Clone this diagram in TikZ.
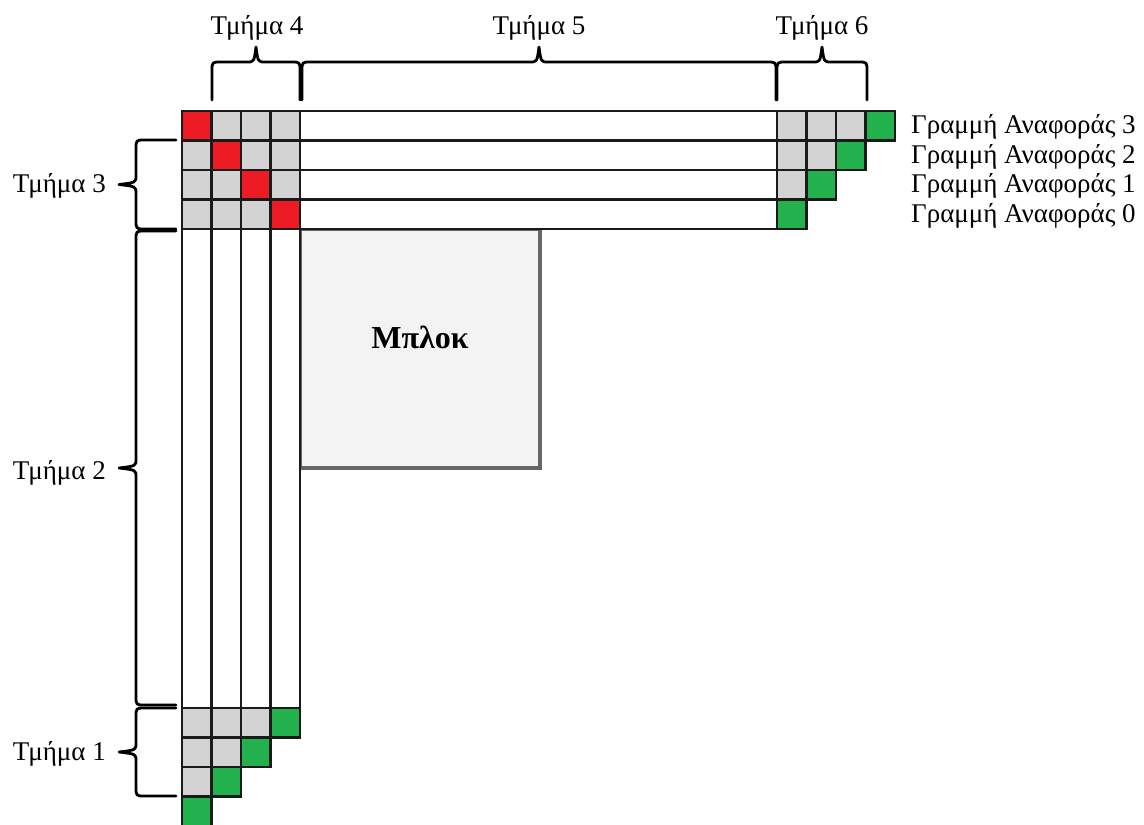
\documentclass[tikz,border=0pt]{standalone}
\usepackage{fontspec}
\setmainfont{Liberation Serif}
\definecolor{cellgray}{HTML}{D3D3D3}
\definecolor{cellred}{HTML}{ED1C24}
\definecolor{cellgreen}{HTML}{22B14C}
\definecolor{blockfill}{HTML}{F3F3F3}
\definecolor{blockedge}{HTML}{666666}
\definecolor{gridink}{HTML}{1A1A1A}

% horizontal brace above a span: #1 left x, #2 right x, #3 y of the ends
\newcommand{\topbrace}[3]{%
  \pgfmathsetmacro\bxm{(#1+#2)/2}%
  \draw[bracepath] (#1,#3) -- (#1,#3-29)
    .. controls (#1,#3-38) .. (#1+9,#3-38) -- (\bxm-9,#3-38)
    .. controls (\bxm-2,#3-38) .. (\bxm,#3-53)
    .. controls (\bxm+2,#3-38) .. (\bxm+9,#3-38) -- (#2-9,#3-38)
    .. controls (#2,#3-38) .. (#2,#3-29) -- (#2,#3);}
% vertical brace left of a span: #1 top y, #2 bottom y, #3 x of the ends
\newcommand{\leftbrace}[3]{%
  \pgfmathsetmacro\bym{(#1+#2)/2}%
  \draw[bracepath] (#3,#1) -- (#3-31,#1)
    .. controls (#3-40,#1) .. (#3-40,#1+9) -- (#3-40,\bym-9)
    .. controls (#3-40,\bym-2) .. (#3-57,\bym)
    .. controls (#3-40,\bym+2) .. (#3-40,\bym+9) -- (#3-40,#2-9)
    .. controls (#3-40,#2) .. (#3-31,#2) -- (#3,#2);}

\begin{document}
\begin{tikzpicture}[x=1pt,y=-1pt,
  cellbox/.style={draw=gridink, line width=2.8pt},
  bracepath/.style={draw=black, line width=2.8pt, line cap=round, line join=round},
  lab/.style={inner sep=0pt, font=\fontsize{27}{32}\selectfont},
  blockbox/.style={draw=blockedge, fill=blockfill, line width=3.5pt,
    minimum width=240pt, minimum height=239pt, inner sep=0pt}]
\useasboundingbox (0,0) rectangle (1144,825);

% the block under the reference rows and columns
\node[blockbox] (block) at (420,348.5) {};
\node[font=\fontsize{32}{36}\selectfont\bfseries, inner sep=0pt]
  (blocklabel) at ([yshift=11pt]block.center) {Μπλοκ};

% horizontal reference rows: white strips
\foreach \r in {0,...,3} {
  \pgfmathsetmacro\ya{111+29.5*\r}
  \pgfmathsetmacro\yb{\ya+29.5}
  \draw[cellbox, fill=white] (300,\ya) rectangle (777,\yb);
}
% vertical reference columns: white strips
\foreach \k in {0,...,3} {
  \pgfmathsetmacro\xa{182+29.5*\k}
  \pgfmathsetmacro\xb{\xa+29.5}
  \draw[cellbox, fill=white] (\xa,229) rectangle (\xb,708);
}
% top-left corner: 4x4 cells, red diagonal
\foreach \r in {0,...,3} {
  \foreach \k in {0,...,3} {
    \pgfmathsetmacro\ya{111+29.5*\r}
    \pgfmathsetmacro\yb{\ya+29.5}
    \pgfmathsetmacro\xa{182+29.5*\k}
    \pgfmathsetmacro\xb{\xa+29.5}
    \ifnum\k=\r\def\cc{cellred}\else\def\cc{cellgray}\fi
    \draw[cellbox, fill=\cc] (\xa,\ya) rectangle (\xb,\yb);
  }
}
% right end of the rows: staircase with green last cell
\foreach \r in {0,...,3} {
  \pgfmathtruncatemacro\last{3-\r}
  \foreach \j in {0,...,\last} {
    \pgfmathsetmacro\ya{111+29.5*\r}
    \pgfmathsetmacro\yb{\ya+29.5}
    \pgfmathsetmacro\xa{777+29.5*\j}
    \pgfmathsetmacro\xb{\xa+29.5}
    \ifnum\j=\last\def\cc{cellgreen}\else\def\cc{cellgray}\fi
    \draw[cellbox, fill=\cc] (\xa,\ya) rectangle (\xb,\yb);
  }
}
% bottom end of the columns: staircase with green last cell
\foreach \k in {0,...,3} {
  \pgfmathtruncatemacro\last{3-\k}
  \foreach \b in {0,...,\last} {
    \pgfmathsetmacro\xa{182+29.5*\k}
    \pgfmathsetmacro\xb{\xa+29.5}
    \pgfmathsetmacro\ya{708+29.5*\b}
    \pgfmathsetmacro\yb{\ya+29.5}
    \ifnum\b=\last\def\cc{cellgreen}\else\def\cc{cellgray}\fi
    \draw[cellbox, fill=\cc] (\xa,\ya) rectangle (\xb,\yb);
  }
}

% braces
\topbrace{212}{300}{100}
\topbrace{302}{776}{100}
\topbrace{777}{867}{100}
\leftbrace{140}{229}{176}
\leftbrace{231}{705}{176}
\leftbrace{708}{796}{176}

% section labels
\node[lab, anchor=base] (t4) at (257,34) {Τμήμα 4};
\node[lab, anchor=base] (t5) at (539,34) {Τμήμα 5};
\node[lab, anchor=base] (t6) at (822,34) {Τμήμα 6};
\node[lab, anchor=base east] (t3) at (106,192) {Τμήμα 3};
\node[lab, anchor=base east] (t2) at (106,479) {Τμήμα 2};
\node[lab, anchor=base east] (t1) at (106,760) {Τμήμα 1};

% reference line labels
\node[lab, anchor=base west] (g3) at (911,133) {Γραμμή Αναφοράς 3};
\node[lab, anchor=base west] (g2) at (911,163) {Γραμμή Αναφοράς 2};
\node[lab, anchor=base west] (g1) at (911,192) {Γραμμή Αναφοράς 1};
\node[lab, anchor=base west] (g0) at (911,222) {Γραμμή Αναφοράς 0};
\end{tikzpicture}
\end{document}
